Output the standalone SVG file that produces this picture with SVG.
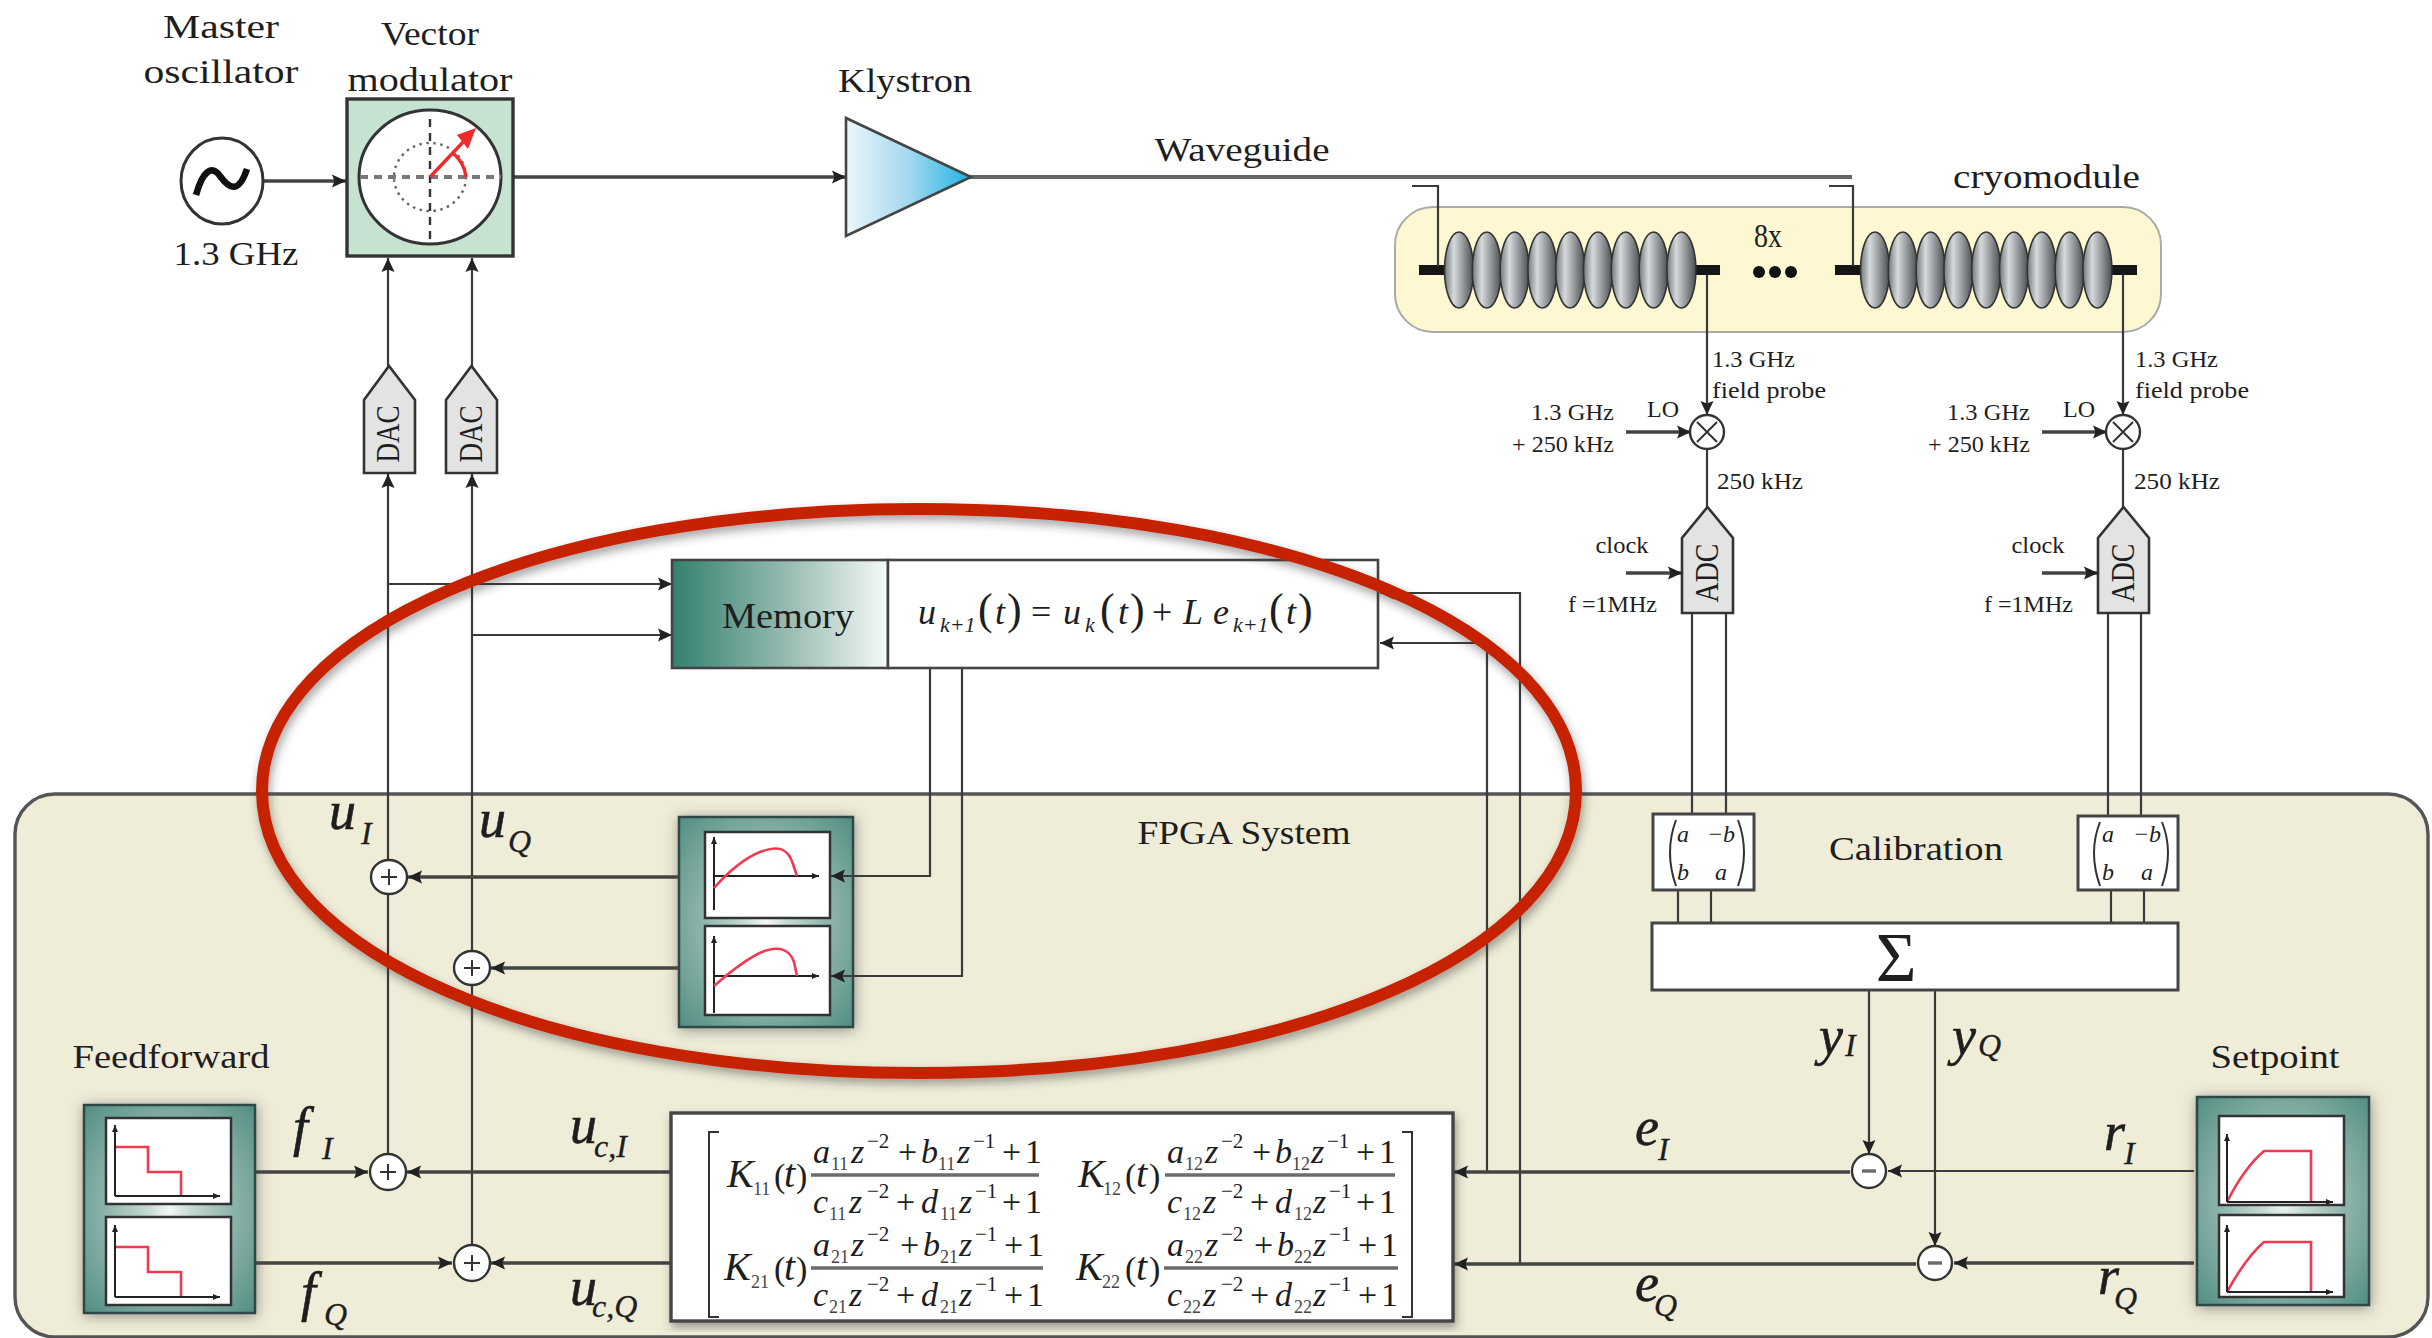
<svg xmlns="http://www.w3.org/2000/svg" xmlns:xlink="http://www.w3.org/1999/xlink" width="2432" height="1338" viewBox="0 0 2432 1338">
<style>
text{font-family:"Liberation Serif","Times New Roman",serif;fill:#1e1e1e}
.l{font-size:34px}.c{text-anchor:middle}.e{text-anchor:end}
.sm{font-size:23px}
.v{font-size:54px;font-style:italic;stroke:#1e1e1e;stroke-width:.6}.vs{font-size:32px;font-style:italic;stroke-width:.3}
.m{font-size:34px;font-style:italic}.ms{font-size:18px;font-style:normal;fill:#444}.me{font-size:21px;font-style:normal}.u{font-size:34px;font-style:normal}
.K{font-size:40px;font-style:italic}
.fm{font-size:36px;font-style:italic}.fs{font-size:22px;font-style:italic}.fp{font-size:44px;font-style:normal}.fu{font-size:36px;font-style:normal}
.cal{font-size:24px;font-style:italic}
.w{stroke:#3a3a3a;stroke-width:2.2;fill:none}
.t{stroke:#444;stroke-width:3.4;fill:none}
.wg{stroke:#666;stroke-width:4;fill:none}
.a{marker-end:url(#ar)}
.box{fill:#fff;stroke:#444;stroke-width:3}
.pane{fill:#fff;stroke:#333;stroke-width:2.5}
.ax{stroke:#222;stroke-width:2;fill:none;marker-end:url(#sa)}
.rd{stroke:#ef3b52;stroke-width:2.6;fill:none}
.sum{fill:#fff;stroke:#333;stroke-width:2.4}
.sg{stroke:#333;stroke-width:2;fill:none}
.fl{stroke:#6b6b6b;stroke-width:3.4}
.frame{fill:url(#teal);stroke:#2f4a44;stroke-width:2.5;filter:url(#sh)}
.dac{fill:#e3e3e3;stroke:#333;stroke-width:2.6}
.bar{stroke:#161616;stroke-width:10}
.cv{fill:url(#cavg);stroke:#333;stroke-width:1.6}
</style>
<defs>
<marker id="ar" markerUnits="userSpaceOnUse" markerWidth="16" markerHeight="16" refX="14" refY="8" orient="auto"><path d="M0 1.5L14 8L0 14.5L2.5 8Z" fill="#222"/></marker>
<marker id="sa" markerUnits="userSpaceOnUse" markerWidth="8" markerHeight="8" refX="7" refY="4" orient="auto"><path d="M0 1L7 4L0 7Z" fill="#222"/></marker>
<radialGradient id="teal" cx="0.5" cy="0.5" r="0.72"><stop offset="0" stop-color="#f4f8f6"/><stop offset="0.18" stop-color="#c4d8d2"/><stop offset="0.5" stop-color="#8fb5ac"/><stop offset="1" stop-color="#4f8c80"/></radialGradient>
<linearGradient id="mem"><stop offset="0" stop-color="#33806f"/><stop offset="0.55" stop-color="#9abdb4"/><stop offset="1" stop-color="#f6faf8"/></linearGradient>
<linearGradient id="kly"><stop offset="0" stop-color="#ecf5fb"/><stop offset="0.5" stop-color="#a5d8ee"/><stop offset="1" stop-color="#1fb3e5"/></linearGradient>
<linearGradient id="cavg"><stop offset="0" stop-color="#70777a"/><stop offset="0.32" stop-color="#d6dadd"/><stop offset="1" stop-color="#4a4e50"/></linearGradient>
<filter id="sh" x="-20%" y="-20%" width="140%" height="140%"><feDropShadow dx="1" dy="2" stdDeviation="7" flood-color="#444" flood-opacity="0.55"/></filter>
<filter id="sh2" x="-5%" y="-5%" width="110%" height="110%"><feDropShadow dx="2" dy="5" stdDeviation="5" flood-color="#333" flood-opacity="0.45"/></filter>
<g id="cavs"><ellipse class="cv" cx="0" cy="0" rx="14.5" ry="38"/><ellipse class="cv" cx="27.8" cy="0" rx="14.5" ry="38"/><ellipse class="cv" cx="55.6" cy="0" rx="14.5" ry="38"/><ellipse class="cv" cx="83.4" cy="0" rx="14.5" ry="38"/><ellipse class="cv" cx="111.2" cy="0" rx="14.5" ry="38"/><ellipse class="cv" cx="139" cy="0" rx="14.5" ry="38"/><ellipse class="cv" cx="166.8" cy="0" rx="14.5" ry="38"/><ellipse class="cv" cx="194.6" cy="0" rx="14.5" ry="38"/><ellipse class="cv" cx="222.4" cy="0" rx="14.5" ry="38"/></g>
</defs>
<rect width="2432" height="1338" fill="#fff"/>

<g id="fpga-system">
<rect x="15" y="794" width="2413" height="543" rx="40" fill="#efedd8" stroke="#555" stroke-width="3.4"/>
<text class="l c" x="1244" y="844" textLength="213" lengthAdjust="spacingAndGlyphs">FPGA System</text>
<text class="l c" x="1916" y="860" textLength="174" lengthAdjust="spacingAndGlyphs">Calibration</text>
</g>

<g id="cryomodule">
<text class="l" x="1953" y="188" textLength="187" lengthAdjust="spacingAndGlyphs">cryomodule</text>
<rect x="1395" y="207" width="766" height="125" rx="38" fill="#fdf8d2" stroke="#aaa" stroke-width="2"/>
<path class="bar" d="M1419 270H1445M1694 270H1720M1835 270H1861M2111 270H2137"/>
<use xlink:href="#cavs" href="#cavs" x="1459" y="270"/>
<use xlink:href="#cavs" href="#cavs" x="1875" y="270"/>
<text class="l c" x="1768" y="247" textLength="28" lengthAdjust="spacingAndGlyphs">8x</text>
<circle cx="1759" cy="272" r="6" fill="#111"/><circle cx="1775" cy="272" r="6" fill="#111"/><circle cx="1791" cy="272" r="6" fill="#111"/>
</g>

<g id="learning-tables">
<rect class="frame" x="679" y="817" width="174" height="210"/>
<rect class="pane" x="705" y="832" width="125" height="86"/>
<rect class="pane" x="705" y="926" width="125" height="89"/>
<path class="ax" d="M714 910V837"/><path class="ax" d="M714 876H819"/>
<path class="rd" d="M714 888C730 870 745 858 760 852C778 845 788 848 793 864L797 876"/>
<path class="ax" d="M714 1013V936"/><path class="ax" d="M714 976H819"/>
<path class="rd" d="M714 986C730 972 748 958 762 952C780 945 790 950 794 962L797 976"/>
</g>

<g id="feedforward">
<text class="l c" x="171" y="1068" textLength="197" lengthAdjust="spacingAndGlyphs">Feedforward</text>
<rect class="frame" x="84" y="1105" width="171" height="208"/>
<rect class="pane" x="106" y="1118" width="125" height="86"/>
<rect class="pane" x="106" y="1217" width="125" height="88"/>
<path class="rd" d="M115 1147H148V1172H181V1196"/>
<path class="ax" d="M115 1196V1125"/><path class="ax" d="M115 1196H220"/>
<path class="rd" d="M115 1247H148V1272H181V1297"/>
<path class="ax" d="M115 1297V1225"/><path class="ax" d="M115 1297H220"/>
</g>

<g id="setpoint">
<text class="l c" x="2275" y="1068" textLength="129" lengthAdjust="spacingAndGlyphs">Setpoint</text>
<rect class="frame" x="2197" y="1097" width="172" height="208"/>
<rect class="pane" x="2219" y="1116" width="125" height="89"/>
<rect class="pane" x="2219" y="1215" width="125" height="82"/>
<path class="rd" d="M2227 1202C2238 1180 2250 1163 2264 1151H2311V1202"/>
<path class="ax" d="M2227 1202V1134"/><path class="ax" d="M2227 1202H2333"/>
<path class="rd" d="M2227 1292C2238 1272 2250 1254 2264 1242H2311V1292"/>
<path class="ax" d="M2227 1292V1225"/><path class="ax" d="M2227 1292H2333"/>
</g>

<g id="connectors">
<path class="t a" d="M264 181H346"/>
<path class="t a" d="M513 177H846"/>
<path class="wg" d="M970 177H1852"/>
<path class="w" d="M1412 186H1438V266M1829 186H1853V266"/>
<path class="w a" d="M388 366V258"/>
<path class="w a" d="M472 366V258"/>
<path class="w a" d="M388 1154V474"/>
<path class="w a" d="M472 1245V474"/>
<path class="w a" d="M388 584H672"/>
<path class="w a" d="M472 635H672"/>
<path class="w a" d="M930 668V876H831"/>
<path class="w a" d="M962 668V976H831"/>
<path class="t a" d="M679 877H408"/>
<path class="t a" d="M679 968H491"/>
<path class="t a" d="M255 1172H368"/>
<path class="t a" d="M255 1263H452"/>
<path class="t a" d="M671 1172H407"/>
<path class="t a" d="M671 1263H491"/>
<path class="w a" d="M1520 1264V593H1380"/>
<path class="w a" d="M1487 1172V643H1380"/>
<path class="t a" d="M1850 1172H1454"/>
<path class="t a" d="M1916 1264H1454"/>
<path class="w a" d="M2194 1171H1888"/>
<path class="t a" d="M2194 1263H1954"/>
<path class="w a" d="M1869 990V1154"/>
<path class="w a" d="M1935 990V1246"/>
<path class="w a" d="M1707 275V415"/>
<path class="w a" d="M2123 275V415"/>
<path class="w" d="M1707 449V507M2123 449V507"/>
<path class="t a" d="M1626 432H1691"/>
<path class="t a" d="M2042 432H2107"/>
<path class="t a" d="M1626 573H1682"/>
<path class="t a" d="M2042 573H2098"/>
<path class="w" d="M1692 613V814M1726 613V814M2108 613V816M2141 613V816"/>
<path class="w" d="M1678 890V923M1711 890V923M2111 890V923M2144 890V923"/>
</g>

<g id="master-oscillator">
<text class="l c" x="221" y="38" textLength="116" lengthAdjust="spacingAndGlyphs">Master</text>
<text class="l c" x="221" y="83" textLength="155" lengthAdjust="spacingAndGlyphs">oscillator</text>
<ellipse cx="222" cy="181" rx="41" ry="43" fill="#fff" stroke="#333" stroke-width="3"/>
<path d="M196 195C203 170 212 165 220 176C228 187 238 196 247 169" fill="none" stroke="#111" stroke-width="6.5"/>
<text class="l c" x="236" y="265" textLength="125" lengthAdjust="spacingAndGlyphs">1.3 GHz</text>
</g>

<g id="vector-modulator">
<text class="l c" x="430" y="45" textLength="98" lengthAdjust="spacingAndGlyphs">Vector</text>
<text class="l c" x="430" y="91" textLength="165" lengthAdjust="spacingAndGlyphs">modulator</text>
<rect x="347" y="99" width="166" height="157" fill="#c5e3d0" stroke="#333" stroke-width="3.4"/>
<ellipse cx="430" cy="177" rx="71" ry="67" fill="#fff" stroke="#333" stroke-width="3"/>
<ellipse cx="430" cy="177" rx="36" ry="34" fill="none" stroke="#666" stroke-width="2.4" stroke-dasharray="2.5 4.5"/>
<path d="M360 177H501" stroke="#777" stroke-width="4" stroke-dasharray="8 6" fill="none"/>
<path d="M430 119V243" stroke="#333" stroke-width="2.4" stroke-dasharray="8 6" fill="none"/>
<path d="M430 177L466 139M453 153C461 160 465 168 466 177" fill="none" stroke="#f02a2a" stroke-width="3.4"/>
<path d="M476 128L457 135L468 149Z" fill="#f02a2a"/>
</g>

<g id="klystron">
<text class="l c" x="905" y="92" textLength="134" lengthAdjust="spacingAndGlyphs">Klystron</text>
<path d="M846 118L971 177L846 236Z" fill="url(#kly)" stroke="#444" stroke-width="2.6"/>
</g>

<g id="waveguide-label"><text class="l c" x="1242" y="161" textLength="175" lengthAdjust="spacingAndGlyphs">Waveguide</text></g>

<g id="dac-i"><path class="dac" d="M364 473V400L389 366L415 400V473Z"/><text class="l c" transform="translate(399 434) rotate(-90)" textLength="57" lengthAdjust="spacingAndGlyphs">DAC</text></g>
<g id="dac-q"><path class="dac" d="M446 473V400L471.500 366L497 400V473Z"/><text class="l c" transform="translate(482 434) rotate(-90)" textLength="57" lengthAdjust="spacingAndGlyphs">DAC</text></g>

<g id="probe-1">
<text class="sm" x="1712" y="367" textLength="83" lengthAdjust="spacingAndGlyphs">1.3 GHz</text>
<text class="sm" x="1712" y="398" textLength="114" lengthAdjust="spacingAndGlyphs">field probe</text>
<text class="sm e" x="1614" y="420" textLength="83" lengthAdjust="spacingAndGlyphs">1.3 GHz</text>
<text class="sm e" x="1614" y="452" textLength="102" lengthAdjust="spacingAndGlyphs">+ 250 kHz</text>
<text class="sm c" x="1663" y="417" textLength="32" lengthAdjust="spacingAndGlyphs">LO</text>
<circle class="sum" cx="1707" cy="432" r="17"/><path class="sg" d="M1697 422L1717 442M1717 422L1697 442"/>
<text class="sm" x="1717" y="489" textLength="86" lengthAdjust="spacingAndGlyphs">250 kHz</text>
</g>
<g id="probe-2">
<text class="sm" x="2135" y="367" textLength="83" lengthAdjust="spacingAndGlyphs">1.3 GHz</text>
<text class="sm" x="2135" y="398" textLength="114" lengthAdjust="spacingAndGlyphs">field probe</text>
<text class="sm e" x="2030" y="420" textLength="83" lengthAdjust="spacingAndGlyphs">1.3 GHz</text>
<text class="sm e" x="2030" y="452" textLength="102" lengthAdjust="spacingAndGlyphs">+ 250 kHz</text>
<text class="sm c" x="2079" y="417" textLength="32" lengthAdjust="spacingAndGlyphs">LO</text>
<circle class="sum" cx="2123" cy="432" r="17"/><path class="sg" d="M2113 422L2133 442M2133 422L2113 442"/>
<text class="sm" x="2134" y="489" textLength="86" lengthAdjust="spacingAndGlyphs">250 kHz</text>
</g>

<g id="adc-1">
<text class="sm c" x="1622" y="553" textLength="53" lengthAdjust="spacingAndGlyphs">clock</text>
<text class="sm" x="1568" y="612" textLength="89" lengthAdjust="spacingAndGlyphs">f =1MHz</text>
<path class="dac" d="M1682 613V538L1707.500 507L1733 538V613Z"/>
<text class="l c" transform="translate(1718 573) rotate(-90)" textLength="59" lengthAdjust="spacingAndGlyphs">ADC</text>
</g>
<g id="adc-2">
<text class="sm c" x="2038" y="553" textLength="53" lengthAdjust="spacingAndGlyphs">clock</text>
<text class="sm" x="1984" y="612" textLength="89" lengthAdjust="spacingAndGlyphs">f =1MHz</text>
<path class="dac" d="M2098 613V538L2123.500 507L2149 538V613Z"/>
<text class="l c" transform="translate(2134 573) rotate(-90)" textLength="59" lengthAdjust="spacingAndGlyphs">ADC</text>
</g>

<g id="memory">
<rect x="672" y="560" width="216" height="108" fill="url(#mem)" stroke="#444" stroke-width="2.6"/>
<rect x="888" y="560" width="490" height="108" fill="#fff" stroke="#444" stroke-width="2.6"/>
<text class="c" x="788" y="628" font-size="36" textLength="132" lengthAdjust="spacingAndGlyphs">Memory</text>
<text class="fm" y="624"><tspan x="918">u</tspan><tspan class="fs" x="940" dy="8">k+1</tspan><tspan class="fp" x="978" dy="-8">(</tspan><tspan x="995">t</tspan><tspan class="fp" x="1007">)</tspan><tspan class="fu" x="1031">=</tspan><tspan x="1063">u</tspan><tspan class="fs" x="1085" dy="8">k</tspan><tspan class="fp" x="1100" dy="-8">(</tspan><tspan x="1118">t</tspan><tspan class="fp" x="1130">)</tspan><tspan class="fu" x="1152">+</tspan><tspan x="1183">L</tspan><tspan x="1213">e</tspan><tspan class="fs" x="1233" dy="8">k+1</tspan><tspan class="fp" x="1269" dy="-8">(</tspan><tspan x="1286">t</tspan><tspan class="fp" x="1298">)</tspan></text>
</g>

<g id="sum-ui"><ellipse class="sum" cx="389" cy="877" rx="18" ry="17"/><path class="sg" d="M381 877H397M389 869V885"/></g>
<g id="sum-uq"><ellipse class="sum" cx="472" cy="968" rx="18" ry="17"/><path class="sg" d="M464 968H480M472 960V976"/></g>
<g id="sum-fi"><ellipse class="sum" cx="388" cy="1172" rx="18" ry="18"/><path class="sg" d="M380 1172H396M388 1164V1180"/></g>
<g id="sum-fq"><ellipse class="sum" cx="472" cy="1263" rx="18" ry="18"/><path class="sg" d="M464 1263H480M472 1255V1271"/></g>
<g id="diff-i"><ellipse class="sum" cx="1869" cy="1171" rx="17" ry="17"/><path class="fl" d="M1862 1171H1876"/></g>
<g id="diff-q"><ellipse class="sum" cx="1935" cy="1263" rx="17" ry="17"/><path class="fl" d="M1928 1263H1942"/></g>

<g id="calibration-1">
<rect class="box" x="1653" y="814" width="101" height="76"/>
<path class="sg" d="M1676 820Q1664 852 1676 886M1738 820Q1750 852 1738 886"/>
<text class="cal c" x="1683" y="842">a</text><text class="cal c" x="1721" y="842">−b</text><text class="cal c" x="1683" y="880">b</text><text class="cal c" x="1721" y="880">a</text>
</g>
<g id="calibration-2">
<rect class="box" x="2078" y="816" width="100" height="74"/>
<path class="sg" d="M2100 822Q2088 852 2100 886M2162 822Q2174 852 2162 886"/>
<text class="cal c" x="2108" y="842">a</text><text class="cal c" x="2147" y="842">−b</text><text class="cal c" x="2108" y="880">b</text><text class="cal c" x="2147" y="880">a</text>
</g>
<g id="sigma">
<rect class="box" x="1652" y="923" width="526" height="67"/>
<text class="c" x="1896" y="981" font-size="70">Σ</text>
</g>

<g id="matrix">
<rect x="671" y="1113" width="782" height="208" fill="#fff" stroke="#444" stroke-width="3.4" filter="url(#sh2)"/>
<path class="sg" d="M719 1132H709V1317H719M1402 1132H1412V1317H1402"/>
<text class="K" x="727" y="1187">K<tspan class="ms" x="753" dy="8">11</tspan><tspan class="u" x="774" dy="-8">(</tspan><tspan x="784">t</tspan><tspan class="u" x="796">)</tspan></text>
<text class="K" x="1078" y="1187">K<tspan class="ms" x="1103" dy="8">12</tspan><tspan class="u" x="1125" dy="-8">(</tspan><tspan x="1136">t</tspan><tspan class="u" x="1149">)</tspan></text>
<text class="K" x="724" y="1280">K<tspan class="ms" x="751" dy="8">21</tspan><tspan class="u" x="774" dy="-8">(</tspan><tspan x="784">t</tspan><tspan class="u" x="796">)</tspan></text>
<text class="K" x="1076" y="1280">K<tspan class="ms" x="1102" dy="8">22</tspan><tspan class="u" x="1125" dy="-8">(</tspan><tspan x="1136">t</tspan><tspan class="u" x="1149">)</tspan></text>
<path class="fl" d="M811 1175H1039M1165 1175H1395M811 1268H1043M1164 1268H1398"/>
<g transform="translate(813 1163)"><text class="m"><tspan x="0">a</tspan><tspan class="ms" x="18" dy="7">11</tspan><tspan x="38" dy="-7">z</tspan><tspan class="me" x="54" dy="-15">−2</tspan><tspan class="u" x="85" dy="15">+</tspan><tspan x="108">b</tspan><tspan class="ms" x="125" dy="7">11</tspan><tspan x="144" dy="-7">z</tspan><tspan class="me" x="160" dy="-15">−1</tspan><tspan class="u" x="189" dy="15">+</tspan><tspan class="u" x="212">1</tspan></text>
<text class="m" y="50"><tspan x="0">c</tspan><tspan class="ms" x="16" dy="7">11</tspan><tspan x="36" dy="-7">z</tspan><tspan class="me" x="54" dy="-15">−2</tspan><tspan class="u" x="83" dy="15">+</tspan><tspan x="108">d</tspan><tspan class="ms" x="127" dy="7">11</tspan><tspan x="146" dy="-7">z</tspan><tspan class="me" x="162" dy="-15">−1</tspan><tspan class="u" x="189" dy="15">+</tspan><tspan class="u" x="212">1</tspan></text></g>
<g transform="translate(1167 1163)"><text class="m"><tspan x="0">a</tspan><tspan class="ms" x="18" dy="7">12</tspan><tspan x="38" dy="-7">z</tspan><tspan class="me" x="54" dy="-15">−2</tspan><tspan class="u" x="85" dy="15">+</tspan><tspan x="108">b</tspan><tspan class="ms" x="125" dy="7">12</tspan><tspan x="144" dy="-7">z</tspan><tspan class="me" x="160" dy="-15">−1</tspan><tspan class="u" x="189" dy="15">+</tspan><tspan class="u" x="212">1</tspan></text>
<text class="m" y="50"><tspan x="0">c</tspan><tspan class="ms" x="16" dy="7">12</tspan><tspan x="36" dy="-7">z</tspan><tspan class="me" x="54" dy="-15">−2</tspan><tspan class="u" x="83" dy="15">+</tspan><tspan x="108">d</tspan><tspan class="ms" x="127" dy="7">12</tspan><tspan x="146" dy="-7">z</tspan><tspan class="me" x="162" dy="-15">−1</tspan><tspan class="u" x="189" dy="15">+</tspan><tspan class="u" x="212">1</tspan></text></g>
<g transform="translate(813 1256)"><text class="m"><tspan x="0">a</tspan><tspan class="ms" x="18" dy="7">21</tspan><tspan x="38" dy="-7">z</tspan><tspan class="me" x="54" dy="-15">−2</tspan><tspan class="u" x="87" dy="15">+</tspan><tspan x="110">b</tspan><tspan class="ms" x="127" dy="7">21</tspan><tspan x="146" dy="-7">z</tspan><tspan class="me" x="162" dy="-15">−1</tspan><tspan class="u" x="191" dy="15">+</tspan><tspan class="u" x="214">1</tspan></text>
<text class="m" y="50"><tspan x="0">c</tspan><tspan class="ms" x="16" dy="7">21</tspan><tspan x="36" dy="-7">z</tspan><tspan class="me" x="54" dy="-15">−2</tspan><tspan class="u" x="83" dy="15">+</tspan><tspan x="108">d</tspan><tspan class="ms" x="127" dy="7">21</tspan><tspan x="146" dy="-7">z</tspan><tspan class="me" x="162" dy="-15">−1</tspan><tspan class="u" x="191" dy="15">+</tspan><tspan class="u" x="214">1</tspan></text></g>
<g transform="translate(1167 1256)"><text class="m"><tspan x="0">a</tspan><tspan class="ms" x="18" dy="7">22</tspan><tspan x="38" dy="-7">z</tspan><tspan class="me" x="54" dy="-15">−2</tspan><tspan class="u" x="87" dy="15">+</tspan><tspan x="110">b</tspan><tspan class="ms" x="127" dy="7">22</tspan><tspan x="146" dy="-7">z</tspan><tspan class="me" x="162" dy="-15">−1</tspan><tspan class="u" x="191" dy="15">+</tspan><tspan class="u" x="214">1</tspan></text>
<text class="m" y="50"><tspan x="0">c</tspan><tspan class="ms" x="16" dy="7">22</tspan><tspan x="36" dy="-7">z</tspan><tspan class="me" x="54" dy="-15">−2</tspan><tspan class="u" x="83" dy="15">+</tspan><tspan x="108">d</tspan><tspan class="ms" x="127" dy="7">22</tspan><tspan x="146" dy="-7">z</tspan><tspan class="me" x="162" dy="-15">−1</tspan><tspan class="u" x="191" dy="15">+</tspan><tspan class="u" x="214">1</tspan></text></g>
</g>

<g id="signal-labels">
<text class="v" x="329" y="829">u<tspan class="vs" x="361" dy="15">I</tspan></text>
<text class="v" x="479" y="837">u<tspan class="vs" x="508" dy="15">Q</tspan></text>
<text class="v" x="293" y="1145">f<tspan class="vs" x="322" dy="14">I</tspan></text>
<text class="v" x="301" y="1310">f<tspan class="vs" x="324" dy="15">Q</tspan></text>
<text class="v" x="570" y="1143">u<tspan class="vs" x="594" dy="14">c,I</tspan></text>
<text class="v" x="570" y="1305">u<tspan class="vs" x="592" dy="12">c,Q</tspan></text>
<text class="v" x="1819" y="1054">y<tspan class="vs" x="1845" dy="2">I</tspan></text>
<text class="v" x="1952" y="1054">y<tspan class="vs" x="1978" dy="2">Q</tspan></text>
<text class="v" x="1635" y="1145">e<tspan class="vs" x="1658" dy="15">I</tspan></text>
<text class="v" x="1635" y="1301">e<tspan class="vs" x="1654" dy="15">Q</tspan></text>
<text class="v" x="2104" y="1150">r<tspan class="vs" x="2124" dy="14">I</tspan></text>
<text class="v" x="2098" y="1294">r<tspan class="vs" x="2114" dy="15">Q</tspan></text>
</g>

<g id="highlight">
<path d="M1576 791C1576 630.300 1293.500 509 919 509C544.500 509 262 630.300 262 791C262 951.700 544.500 1073 919 1073C1293.500 1073 1576 951.700 1576 791Z" fill="none" stroke="#c62400" stroke-width="12" filter="url(#sh2)"/>
</g>
</svg>
